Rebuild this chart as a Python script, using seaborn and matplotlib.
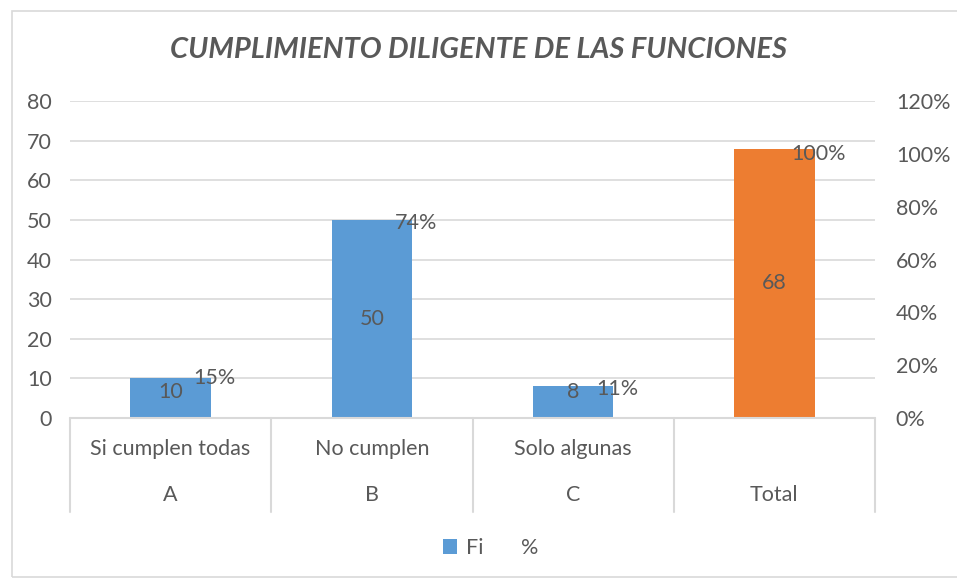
import matplotlib
matplotlib.use('Agg')
import matplotlib.pyplot as plt
import matplotlib.transforms as mtransforms
from matplotlib.patches import Patch, Rectangle
from matplotlib.ticker import PercentFormatter
import seaborn as sns
import pandas as pd

# data
groups = ['A', 'B', 'C', 'Total']
categories = ['Si cumplen todas', 'No cumplen', 'Solo algunas', '']
fi = [10, 50, 8, 68]
pct = [0.15, 0.74, 0.11, 1.00]
colors = ['#5B9BD5', '#5B9BD5', '#5B9BD5', '#ED7D31']

TEXT = '#595959'
GRID = '#D9D9D9'
FS = 15.5

sns.set_theme(style='white')
plt.rcParams['font.family'] = ['Lato', 'DejaVu Sans']

df = pd.DataFrame({'group': groups, 'fi': fi, 'pct': pct})

fig = plt.figure(figsize=(9.57, 5.78), dpi=100)
ax = fig.add_axes([70 / 957, 1 - 418 / 578, 805 / 957, 317 / 578])

sns.barplot(data=df, x='group', y='fi', hue='group', palette=colors,
            width=0.4, legend=False, ax=ax, saturation=1, linewidth=0)

ax.set_xlim(-0.5, 3.5)
ax.set_ylim(0, 80)
ax.set_yticks(range(0, 81, 10))
ax.yaxis.grid(True, color=GRID, linewidth=1.2)
ax.set_axisbelow(True)
for s in ax.spines.values():
    s.set_visible(False)
ax.set_xlabel('')
ax.set_ylabel('')
ax.set_xticks([])
ax.tick_params(axis='y', labelsize=FS, labelcolor=TEXT, length=0, pad=13)

# value labels in the middle of each bar
for i, v in enumerate(fi):
    ax.text(i, max(v / 2, 6.5), f'{v}', ha='center', va='center', fontsize=FS, color=TEXT)

# secondary axis for percentages
ax2 = ax.twinx()
ax2.set_ylim(0, 1.2)
ax2.set_yticks([0, 0.2, 0.4, 0.6, 0.8, 1.0, 1.2])
ax2.yaxis.set_major_formatter(PercentFormatter(1.0, decimals=0))
ax2.tick_params(axis='y', labelsize=FS, labelcolor=TEXT, length=0, pad=15)
for s in ax2.spines.values():
    s.set_visible(False)
ax2.grid(False)
for i, p in enumerate(pct):
    ax2.text(i + 0.22, p, f'{p:.0%}', ha='center', va='center', fontsize=FS, color=TEXT)

# multi-level category axis
trans = mtransforms.blended_transform_factory(ax.transData, ax.transAxes)
bottom = (418 - 512) / 317
ax.plot([-0.5, 3.5], [0, 0], color=GRID, lw=1.5, transform=trans, clip_on=False)
for xb in [-0.5, 0.5, 1.5, 2.5, 3.5]:
    ax.plot([xb, xb], [0, bottom], color=GRID, lw=1.5, transform=trans, clip_on=False)
for i, (cat, grp) in enumerate(zip(categories, groups)):
    ax.text(i, (418 - 449) / 317, cat, ha='center', va='center', fontsize=FS,
            color=TEXT, transform=trans)
    ax.text(i, (418 - 495) / 317, grp, ha='center', va='center', fontsize=FS,
            color=TEXT, transform=trans)

fig.text(0.5, 1 - 50 / 578, 'CUMPLIMIENTO DILIGENTE DE LAS FUNCIONES', ha='center',
         va='center', fontsize=21, fontweight='bold', fontstyle='italic', color=TEXT)

handles = [Patch(facecolor='#5B9BD5', edgecolor='none', label='Fi'),
           Patch(facecolor='none', edgecolor='none', label='%')]
fig.legend(handles=handles, loc='center', bbox_to_anchor=(0.5 + 12 / 957, 1 - 548 / 578), ncol=2,
           frameon=False, fontsize=FS, labelcolor=TEXT, handlelength=0.65,
           handleheight=0.65, handletextpad=0.4, columnspacing=0.7)

# chart border
fig.patches.append(Rectangle((12 / 957, 0.002), 1.0, 1 - 12 / 578, transform=fig.transFigure,
                             fill=False, edgecolor=GRID, lw=1.2))

fig.savefig('out.png', dpi=100)
